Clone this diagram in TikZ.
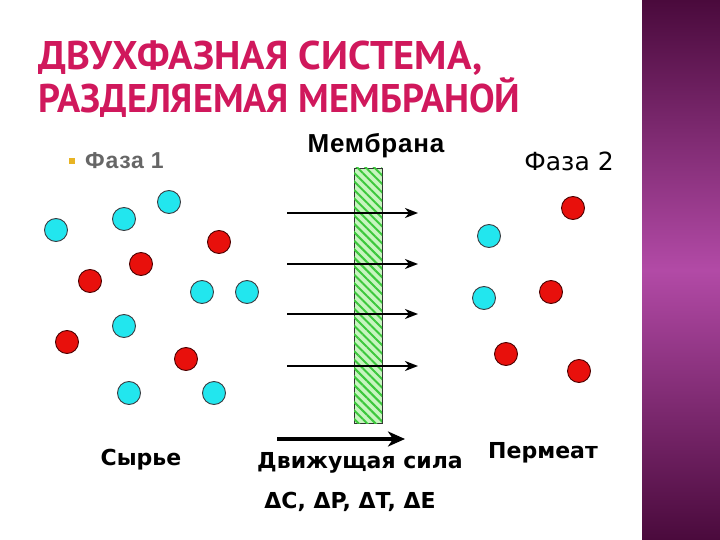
\documentclass[tikz,border=0pt]{standalone}
\usepackage{fontspec}
\setmainfont{DejaVu Sans}
\newfontfamily\titlefont{PT Sans}
\newfontfamily\arialwide[LetterSpace=3]{Liberation Sans}
\usetikzlibrary{arrows.meta,patterns.meta}
\definecolor{titlered}{HTML}{D0185C}
\definecolor{cyanball}{HTML}{22E6EE}
\definecolor{redball}{HTML}{E8100C}
\definecolor{memlight}{HTML}{C8F5C0}
\definecolor{memstripe}{HTML}{3CC83C}
\definecolor{bandtop}{HTML}{4A0A3C}
\definecolor{bandmid}{HTML}{B24AA6}
\definecolor{bulletc}{HTML}{E8B424}
\tikzset{
  ball/.style={circle, draw=black!85!cyan, line width=0.9pt, minimum size=23pt, inner sep=0pt},
  cy/.style={ball, fill=cyanball},
  rd/.style={ball, fill=redball, draw=black!70!red},
  flow/.style={line width=2pt, -{Stealth[length=13pt,width=10pt,inset=4pt]}},
  lbl/.style={font=\bfseries\fontsize{22}{22}\selectfont, inner sep=0pt, anchor=base},
  ttl/.style={anchor=base west, inner sep=0pt, text=titlered, font=\titlefont\bfseries\fontsize{40}{40}\selectfont},
}
\begin{document}
\begin{tikzpicture}[x=1pt,y=-1pt]
\useasboundingbox (0,0) rectangle (720,540);
\fill[white] (0,0) rectangle (720,540);
\shade[top color=bandtop, bottom color=bandtop, middle color=bandmid] (642,0) rectangle (720,540);
% title
\node[ttl] (t1) at (38,70) {\scalebox{1.01}[1]{ДВУХФАЗНАЯ СИСТЕМА,}};
\node[ttl] (t2) at (38,113) {\scalebox{0.958}[1]{РАЗДЕЛЯЕМАЯ МЕМБРАНОЙ}};
% phase labels
\node[fill=bulletc, minimum size=6pt, inner sep=0pt] (bul) at (72,161) {};
\node[anchor=base west, inner sep=0pt, text=black!60, font=\arialwide\bfseries\fontsize{23}{23}\selectfont] (f1) at (85,169) {Фаза 1};
\node[anchor=base, inner sep=0pt, font=\arialwide\bfseries\fontsize{26}{26}\selectfont] (mem) at (376,153) {Мембрана};
\node[anchor=base, inner sep=0pt, font=\fontsize{25}{25}\selectfont] (f2) at (569,171) {Фаза 2};
% membrane
\node[draw=black!80, line width=0.8pt, minimum width=28pt, minimum height=255pt, inner sep=0pt,
  fill=memlight, postaction={pattern={Lines[angle=-45,distance=6pt,line width=2pt]}, pattern color=memstripe}] (m) at (368,295.5) {};
% arrows
\foreach \i/\y in {1/213,2/264,3/314,4/366}{
  \coordinate (s\i) at (287,\y);
  \coordinate (e\i) at (418,\y);
  \draw[flow] (s\i) -- (e\i);
}
% phase 1 balls
\node[cy] (c1) at (56,230) {};
\node[cy] (c2) at (124,219) {};
\node[cy] (c3) at (169,202) {};
\node[rd] (r1) at (219,242) {};
\node[rd] (r2) at (141,264) {};
\node[rd] (r3) at (90,281) {};
\node[cy] (c4) at (202,292) {};
\node[cy] (c5) at (247,292) {};
\node[cy] (c6) at (124,326) {};
\node[rd] (r4) at (67,342) {};
\node[rd] (r5) at (186,359) {};
\node[cy] (c7) at (129,393) {};
\node[cy] (c8) at (214,393) {};
% phase 2 balls
\node[rd] (r6) at (573,208) {};
\node[cy] (c9) at (489,236) {};
\node[cy] (c10) at (484,298) {};
\node[rd] (r7) at (551,292) {};
\node[rd] (r8) at (506,354) {};
\node[rd] (r9) at (579,371) {};
% driving force
\coordinate (ds) at (277,439);
\coordinate (de) at (405,439);
\draw[line width=4pt, -{Stealth[length=17pt,width=15pt,inset=5pt]}] (ds) -- (de);
\node[lbl] (feed) at (141,465) {Сырье};
\node[lbl] (drive) at (360,468) {Движущая сила};
\node[lbl] (perm) at (543,458) {Пермеат};
\node[lbl] (delta) at (350,508) {ΔC, ΔP, ΔT, ΔE};
\end{tikzpicture}
\end{document}
